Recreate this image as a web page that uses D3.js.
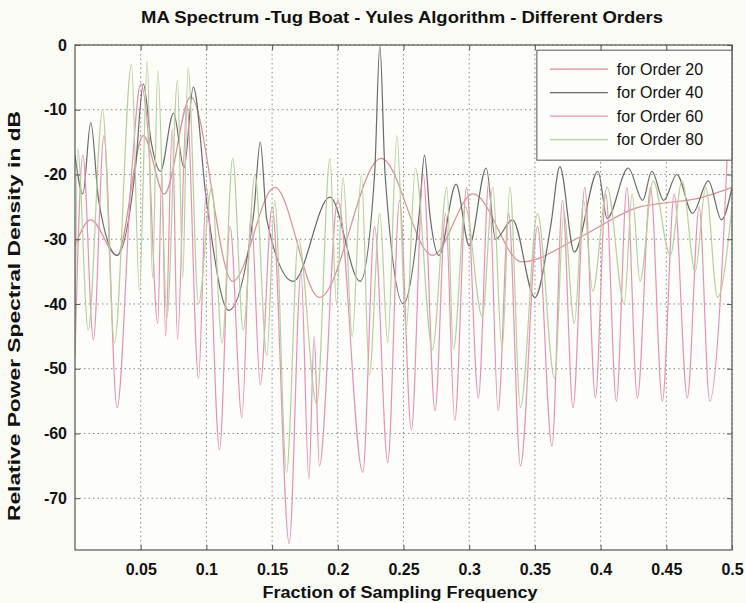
<!DOCTYPE html>
<html>
<head>
<meta charset="utf-8">
<script src="https://cdn.jsdelivr.net/npm/d3@7"></script>
<style>
    body { margin: 0; background: #fbfbf6; }
    svg { display: block; }
    text { font-family: "Liberation Sans", Arial, sans-serif; fill: #111; }
</style>
</head>
<body>
<svg id="chartSvg" width="746" height="603"></svg>
<script>
// spectrum chart, values

// x ticks and y ticks
let xTicks = [0.05, 0.1, 0.15, 0.2, 0.25, 0.3, 0.35, 0.4, 0.45, 0.5];
let yTicks = [0, -10, -20, -30, -40, -50, -60, -70];

let seriesNames = ["for Order 20", "for Order 40", "for Order 60", "for Order 80"];
let seriesColors = ["#d98f96", "#6a6a6a", "#e493b5", "#b7cf9c"];

// [fraction of sampling frequency, dB]
let order20 = [
    [0, -31], [0.012, -27], [0.032, -32.5], [0.052, -14], [0.068, -23], [0.088, -8],
    [0.12, -36.5], [0.152, -22], [0.186, -39], [0.233, -17.5], [0.272, -32.5],
    [0.303, -23], [0.34, -33.5], [0.384, -29.7], [0.43, -25], [0.445, -24.5],
    [0.476, -23.6], [0.5, -22]
];

let order40 = [
    [0, -17], [0.006, -23], [0.012, -12], [0.018, -24], [0.032, -32.5], [0.046, -19],
    [0.052, -6], [0.058, -15], [0.065, -19.5], [0.075, -10.5], [0.083, -19], [0.09, -6.5],
    [0.1, -24], [0.117, -41], [0.136, -26], [0.141, -15], [0.146, -27], [0.166, -36.5],
    [0.194, -23.5], [0.217, -36.5], [0.228, -20], [0.232, 0], [0.236, -20], [0.25, -40],
    [0.262, -26], [0.266, -17], [0.27, -26], [0.277, -32.5], [0.29, -21.5], [0.3, -31],
    [0.313, -19], [0.32, -30], [0.333, -27], [0.35, -39], [0.362, -28], [0.369, -18.8],
    [0.38, -32], [0.398, -19.5], [0.405, -26.8], [0.421, -19], [0.432, -24], [0.439, -19.5],
    [0.448, -24], [0.458, -20], [0.47, -26], [0.482, -21], [0.492, -27], [0.5, -22]
];

let order60 = [
    [0, -48], [0.006, -17], [0.014, -45.5], [0.022, -14], [0.032, -56], [0.043, -20],
    [0.05, -6], [0.055, -12], [0.063, -43], [0.066, -20], [0.069, -45], [0.074, -13],
    [0.078, -45.5], [0.085, -9], [0.094, -51.5], [0.1, -22], [0.11, -62.5], [0.118, -28],
    [0.127, -57.5], [0.134, -26], [0.141, -52.5], [0.15, -25], [0.163, -77], [0.172, -35],
    [0.178, -67], [0.182, -45], [0.186, -65], [0.2, -24], [0.219, -66], [0.228, -28],
    [0.238, -64.5], [0.247, -24], [0.256, -59.5], [0.265, -20], [0.274, -56.5], [0.282, -26],
    [0.289, -58], [0.298, -22], [0.307, -54.5], [0.315, -21], [0.322, -56.5], [0.33, -26],
    [0.339, -65], [0.352, -28], [0.363, -62], [0.371, -24], [0.379, -56], [0.388, -22],
    [0.396, -54.5], [0.404, -23], [0.412, -55], [0.42, -22], [0.428, -54.5], [0.438, -22],
    [0.447, -55], [0.456, -23], [0.466, -54.5], [0.475, -25], [0.483, -55], [0.5, 0]
];

let order80 = [
    [0, -48], [0.002, -16], [0.01, -44], [0.021, -10], [0.03, -46], [0.043, -3],
    [0.049, -38], [0.055, -2.5], [0.059, -36], [0.063, -4], [0.07, -42], [0.078, -5.5],
    [0.082, -36], [0.086, -3.5], [0.094, -40], [0.104, -22], [0.112, -46], [0.12, -17.5],
    [0.128, -44], [0.137, -20], [0.146, -48], [0.152, -24], [0.161, -66], [0.17, -30],
    [0.184, -55.5], [0.194, -17.5], [0.199, -40], [0.204, -20.5], [0.211, -45], [0.218, -20],
    [0.224, -51], [0.232, -26], [0.238, -46], [0.245, -14], [0.252, -44], [0.259, -19],
    [0.272, -47], [0.283, -22], [0.288, -47], [0.297, -25], [0.31, -42], [0.318, -22],
    [0.325, -47], [0.331, -22], [0.339, -56], [0.352, -26], [0.365, -51.5], [0.372, -26],
    [0.38, -43], [0.387, -24], [0.394, -38], [0.405, -22], [0.418, -40], [0.424, -23],
    [0.43, -36.5], [0.44, -21], [0.453, -32.5], [0.462, -21], [0.472, -35], [0.48, -22],
    [0.489, -39], [0.5, -25]
];

let allSeries = [order20, order40, order60, order80];

let chartMargin = {top: 45, right: 14, bottom: 53, left: 75};
let chartWidth = 746 - chartMargin.left - chartMargin.right;
let chartHeight = 603 - chartMargin.top - chartMargin.bottom;

let xScale = d3.scaleLinear().domain([0, 0.5]).range([0, chartWidth]);
let yScale = d3.scaleLinear().domain([-78, 0]).range([chartHeight, 0]);

function drawChart() {
    let svg = d3.select("#chartSvg");

    svg.append("rect")
        .attr("width", 746).attr("height", 603)
        .attr("fill", "#fbfbf6");

    let g = svg.append("g")
        .attr("transform", "translate(" + chartMargin.left + "," + chartMargin.top + ")");

    g.append("rect")
        .attr("width", chartWidth).attr("height", chartHeight)
        .attr("fill", "#fdfdf9");

    // dotted grid
    g.append("g")
        .selectAll("line")
        .data(xTicks)
        .enter()
        .append("line")
        .attr("x1", d => xScale(d)).attr("x2", d => xScale(d))
        .attr("y1", 0).attr("y2", chartHeight)
        .attr("stroke", "#8a8a8a")
        .attr("stroke-dasharray", "1.5,3");

    g.append("g")
        .selectAll("line")
        .data(yTicks)
        .enter()
        .append("line")
        .attr("x1", 0).attr("x2", chartWidth)
        .attr("y1", d => yScale(d)).attr("y2", d => yScale(d))
        .attr("stroke", "#8a8a8a")
        .attr("stroke-dasharray", "1.5,3");

    // curves
    g.append("clipPath").attr("id", "plotClip")
        .append("rect").attr("width", chartWidth).attr("height", chartHeight);

    let line = d3.line()
        .x(d => xScale(d[0]))
        .y(d => yScale(d[1]))
        .curve(d3.curveMonotoneX);

    g.append("g")
        .attr("clip-path", "url(#plotClip)")
        .selectAll("path")
        .data(allSeries)
        .enter()
        .append("path")
        .attr("d", line)
        .attr("fill", "none")
        .attr("stroke", (d, i) => seriesColors[i])
        .attr("stroke-width", 1.2);

    // axes, ticks inside like matlab
    let xAxis = d3.axisBottom(xScale).tickValues(xTicks).tickSize(-5).tickPadding(14)
        .tickFormat(d => String(d));
    g.append("g")
        .attr("transform", "translate(0," + chartHeight + ")")
        .call(xAxis)
        .call(a => a.select(".domain").remove());

    let yAxis = d3.axisLeft(yScale).tickValues(yTicks).tickSize(-5).tickPadding(8)
        .tickFormat(d => String(d));
    g.append("g")
        .call(yAxis)
        .call(a => a.select(".domain").remove());

    g.append("g").call(d3.axisTop(xScale).tickValues(xTicks).tickSize(-5).tickFormat(""))
        .call(a => a.select(".domain").remove());
    g.append("g").attr("transform", "translate(" + chartWidth + ",0)")
        .call(d3.axisRight(yScale).tickValues(yTicks).tickSize(-5).tickFormat(""))
        .call(a => a.select(".domain").remove());

    g.selectAll(".tick line").attr("stroke", "#555");
    g.selectAll(".tick text")
        .style("font-size", "16px")
        .style("font-weight", "bold")
        .attr("fill", "#111");

    g.append("rect")
        .attr("width", chartWidth).attr("height", chartHeight)
        .attr("fill", "none")
        .attr("stroke", "#555")
        .attr("stroke-width", 1.2);

    // legend
    let legend = g.append("g")
        .attr("transform", "translate(" + (xScale(0.3515)) + "," + (yScale(-0.8)) + ")");

    legend.append("rect")
        .attr("width", 195).attr("height", 110)
        .attr("fill", "#fdfdf9")
        .attr("stroke", "#555");

    let entry = legend.selectAll("g.entry")
        .data(seriesNames)
        .enter()
        .append("g")
        .attr("class", "entry")
        .attr("transform", (d, i) => "translate(0," + (19 + i * 23.5) + ")");

    entry.append("line")
        .attr("x1", 13).attr("x2", 71)
        .attr("stroke", (d, i) => seriesColors[i])
        .attr("stroke-width", 1.3);

    entry.append("text")
        .attr("x", 80).attr("dy", "0.35em")
        .style("font-size", "16px")
        .text(d => d);

    // titles
    svg.append("text")
        .attr("x", 402).attr("y", 23)
        .attr("text-anchor", "middle")
        .attr("textLength", 522)
        .attr("lengthAdjust", "spacingAndGlyphs")
        .style("font-size", "16px")
        .style("font-weight", "bold")
        .text("MA Spectrum -Tug Boat - Yules Algorithm - Different Orders");

    svg.append("text")
        .attr("x", 400).attr("y", 598)
        .attr("text-anchor", "middle")
        .attr("textLength", 275)
        .attr("lengthAdjust", "spacingAndGlyphs")
        .style("font-size", "16px")
        .style("font-weight", "bold")
        .text("Fraction of Sampling Frequency");

    svg.append("text")
        .attr("transform", "translate(20,316) rotate(-90)")
        .attr("text-anchor", "middle")
        .attr("textLength", 410)
        .attr("lengthAdjust", "spacingAndGlyphs")
        .style("font-size", "16px")
        .style("font-weight", "bold")
        .text("Relative Power Spectral Density in dB");
}

drawChart();
</script>
</body>
</html>
